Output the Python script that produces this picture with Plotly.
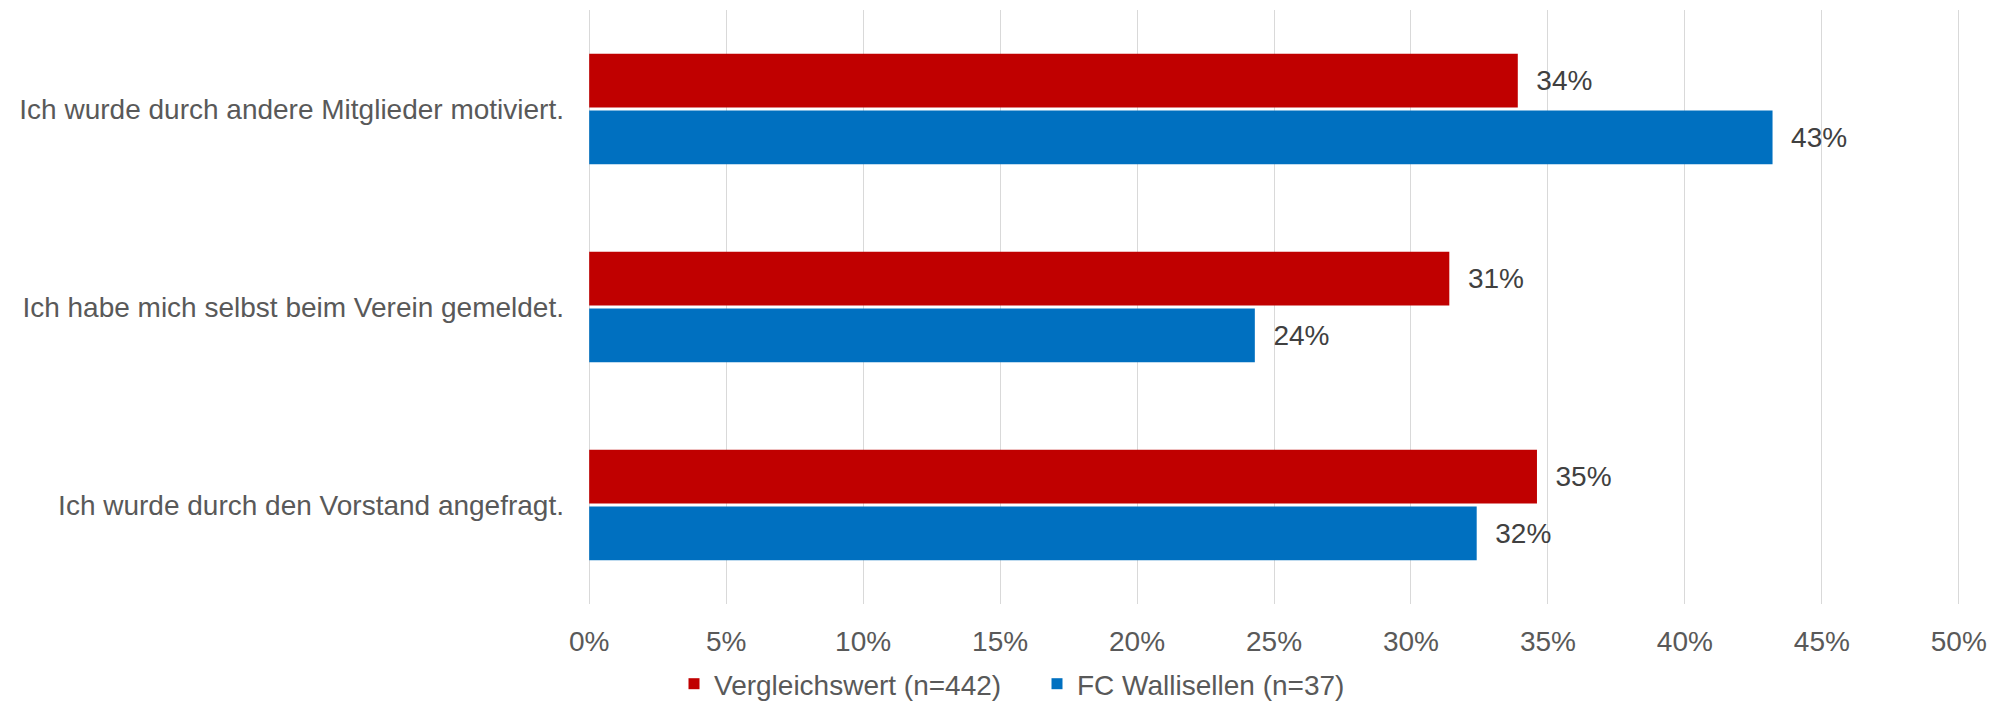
import plotly.graph_objects as go

# categories (top to bottom) and series values in percent
categories = [
    "Ich wurde durch andere Mitglieder motiviert.",
    "Ich habe mich selbst beim Verein gemeldet.",
    "Ich wurde durch den Vorstand angefragt.",
]
vergleich = [33.9, 31.4, 34.6]
wallisellen = [43.2, 24.3, 32.4]
series_names = ["Vergleichswert (n=442)", "FC Wallisellen (n=37)"]
tick_vals = [0, 5, 10, 15, 20, 25, 30, 35, 40, 45, 50]
tick_text = ["0%", "5%", "10%", "15%", "20%", "25%", "30%", "35%", "40%", "45%", "50%"]

RED = "#C00000"
BLUE = "#0070C0"
FONT = "Liberation Sans, Arial, sans-serif"
FS = 28

fig = go.Figure()

# bars (legend handled by dummy square markers below)
for name, vals, col in [(series_names[0], vergleich, RED), (series_names[1], wallisellen, BLUE)]:
    fig.add_trace(go.Bar(
        y=categories, x=vals, name=name, orientation="h",
        marker=dict(color=col, line=dict(width=0)),
        texttemplate="\u00a0\u00a0%{x:.0f}%", textposition="outside",
        textfont=dict(family=FONT, size=FS, color="#404040"),
        cliponaxis=False, showlegend=False,
    ))

# legend entries with small square markers
for name, col in [(series_names[0], RED), (series_names[1], BLUE)]:
    fig.add_trace(go.Scatter(
        x=[None], y=[None], mode="markers", name=name,
        marker=dict(symbol="square", size=11, color=col),
    ))

# page body has an 8px margin, so the figure is a bit smaller than the window
fig.update_layout(
    width=2003, height=701,
    margin=dict(l=579, r=50, t=2, b=102),
    paper_bgcolor="white", plot_bgcolor="white",
    font=dict(family=FONT, size=FS, color="#595959"),
    barmode="group", bargap=0.427, bargroupgap=0.053,
    legend=dict(
        orientation="h", xref="container", yref="container",
        x=(694 - 8 - 20) / 2003, xanchor="left", y=-5 / 701, yanchor="bottom",
        font=dict(family=FONT, size=FS, color="#595959"),
        itemwidth=30, entrywidth=318, entrywidthmode="pixels",
    ),
)
fig.update_xaxes(
    range=[-0.08, 50.08], tickvals=tick_vals, ticktext=tick_text,
    showgrid=True, gridcolor="#d9d9d9", gridwidth=1.3,
    zeroline=False, showline=False, ticks="", ticklabelstandoff=18,
)
fig.update_yaxes(
    autorange="reversed", showgrid=False, zeroline=False, showline=False,
    ticks="", ticklabelstandoff=22,
)

fig.write_html("out.html")
